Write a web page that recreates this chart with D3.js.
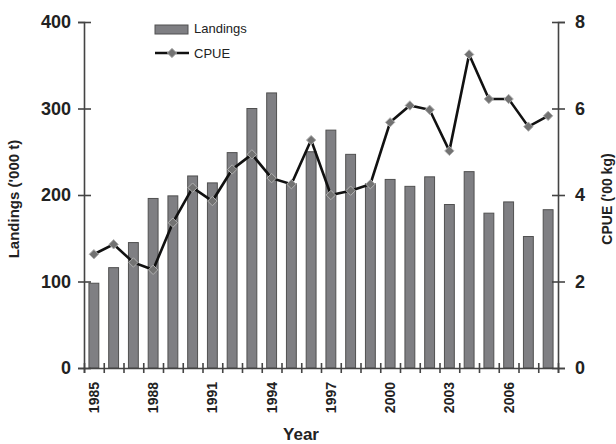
<!DOCTYPE html>
<html>
<head>
<meta charset="utf-8">
<script src="https://cdn.jsdelivr.net/npm/d3@7"></script>
<style>
  body { margin: 0; background: #fff; }
  svg { display: block; font-family: "Liberation Sans", Arial, sans-serif; }
</style>
</head>
<body>
<svg id="chart" width="616" height="444"></svg>
<script>
const years = d3.range(1985, 2009);
const landings = [98, 116, 145, 196, 199, 222, 214, 249, 300, 318, 213, 250, 275, 247, 213, 218, 210, 221, 189, 227, 179, 192, 152, 183];
const cpue = [2.63, 2.86, 2.44, 2.27, 3.36, 4.17, 3.86, 4.59, 4.94, 4.39, 4.25, 5.27, 4.0, 4.1, 4.25, 5.68, 6.07, 5.97, 5.02, 7.25, 6.22, 6.22, 5.58, 5.83];
const leftTicks = [0, 100, 200, 300, 400];
const rightTicks = [0, 2, 4, 6, 8];
const yearLabels = [1985, 1988, 1991, 1994, 1997, 2000, 2003, 2006];

const svg = d3.select("#chart");
const m = {left: 84, right: 58, top: 22, bottom: 76};
const W = 616, H = 444;
const x = d3.scaleBand().domain(years).range([m.left, W - m.right]).padding(0);
const xi = d3.scaleLinear().domain([0, years.length]).range([m.left, W - m.right]);
const yL = d3.scaleLinear().domain([0, 400]).range([H - m.bottom, m.top]);
const yR = d3.scaleLinear().domain([0, 8]).range([H - m.bottom, m.top]);
const axisColor = "#444";

// bars
const bw = x.bandwidth() * 0.5;
svg.append("g").selectAll("rect").data(years).join("rect")
  .attr("x", (d) => x(d) + x.bandwidth() / 2 - bw / 2)
  .attr("y", (d, i) => yL(landings[i]))
  .attr("width", bw)
  .attr("height", (d, i) => yL(0) - yL(landings[i]))
  .attr("fill", "#7f7f83")
  .attr("stroke", "#505050")
  .attr("stroke-width", 1);

// line
const line = d3.line()
  .x((d, i) => x(years[i]) + x.bandwidth() / 2)
  .y((d) => yR(d));
svg.append("path").datum(cpue)
  .attr("d", line)
  .attr("fill", "none")
  .attr("stroke", "#111")
  .attr("stroke-width", 2.6);

const diamond = d3.symbol().type(d3.symbolDiamond2).size(56);
svg.append("g").selectAll("path").data(cpue).join("path")
  .attr("d", diamond)
  .attr("transform", (d, i) => `translate(${x(years[i]) + x.bandwidth() / 2},${yR(d)})`)
  .attr("fill", "#727272")
  .attr("stroke", "#b0b0b0")
  .attr("stroke-width", 1);

// axes
function styleAxis(g, fs) {
  g.select(".domain").attr("stroke", axisColor).attr("stroke-width", 1.6);
  g.selectAll(".tick line").attr("stroke", axisColor).attr("stroke-width", 1.6);
  g.selectAll("text").attr("font-size", fs).attr("font-weight", "bold").attr("fill", "#222")
    .attr("font-family", "Liberation Sans, Arial, sans-serif");
}

const gL = svg.append("g").attr("transform", `translate(${m.left},0)`)
  .call(d3.axisLeft(yL).tickValues(leftTicks).tickSizeOuter(0).tickSize(6).tickPadding(7));
gL.selectAll(".tick line").attr("x1", 7).attr("x2", -6);
styleAxis(gL, 18);

const gR = svg.append("g").attr("transform", `translate(${W - m.right},0)`)
  .call(d3.axisRight(yR).tickValues(rightTicks).tickSizeOuter(0).tickSize(7).tickPadding(10));
gR.selectAll(".tick line").attr("x1", -6).attr("x2", 7);
styleAxis(gR, 18);

const gB = svg.append("g").attr("transform", `translate(0,${H - m.bottom})`)
  .call(d3.axisBottom(xi).tickValues(d3.range(0, years.length + 1)).tickFormat("").tickSizeOuter(0).tickSize(5));
gB.selectAll(".tick line").attr("y1", -5).attr("y2", 5);
styleAxis(gB, 14);

const gBL = svg.append("g").attr("transform", `translate(0,${H - m.bottom})`)
  .call(d3.axisBottom(x).tickValues(yearLabels).tickSize(0).tickPadding(0));
gBL.select(".domain").remove();
gBL.selectAll("text")
  .attr("transform", "translate(0,14) rotate(-90)")
  .attr("x", 0).attr("y", 0).attr("dy", "0.35em")
  .attr("text-anchor", "end")
  .attr("font-size", 14).attr("font-weight", "bold").attr("fill", "#222")
  .attr("font-family", "Liberation Sans, Arial, sans-serif");

// titles
svg.append("text").attr("transform", "translate(19,199) rotate(-90)")
  .attr("text-anchor", "middle").attr("font-size", 15).attr("font-weight", "bold").attr("fill", "#222")
  .text("Landings ('000 t)");
svg.append("text").attr("transform", "translate(612,199) rotate(-90)")
  .attr("text-anchor", "middle").attr("font-size", 14).attr("font-weight", "bold").attr("fill", "#222")
  .text("CPUE ('00 kg)");
svg.append("text").attr("x", 301).attr("y", 440)
  .attr("text-anchor", "middle").attr("font-size", 17).attr("font-weight", "bold").attr("fill", "#222")
  .text("Year");

// legend
const lg = svg.append("g");
lg.append("rect").attr("x", 155).attr("y", 25).attr("width", 33).attr("height", 9)
  .attr("fill", "#7f7f83").attr("stroke", "#505050").attr("stroke-width", 1);
lg.append("text").attr("x", 194).attr("y", 33).attr("font-size", 13).attr("fill", "#222").text("Landings");
lg.append("line").attr("x1", 155).attr("x2", 189).attr("y1", 53).attr("y2", 53)
  .attr("stroke", "#111").attr("stroke-width", 2.6);
lg.append("path").attr("d", diamond).attr("transform", "translate(172,53)")
  .attr("fill", "#727272").attr("stroke", "#b0b0b0").attr("stroke-width", 1);
lg.append("text").attr("x", 194).attr("y", 57.5).attr("font-size", 13).attr("fill", "#222").text("CPUE");
</script>
</body>
</html>
